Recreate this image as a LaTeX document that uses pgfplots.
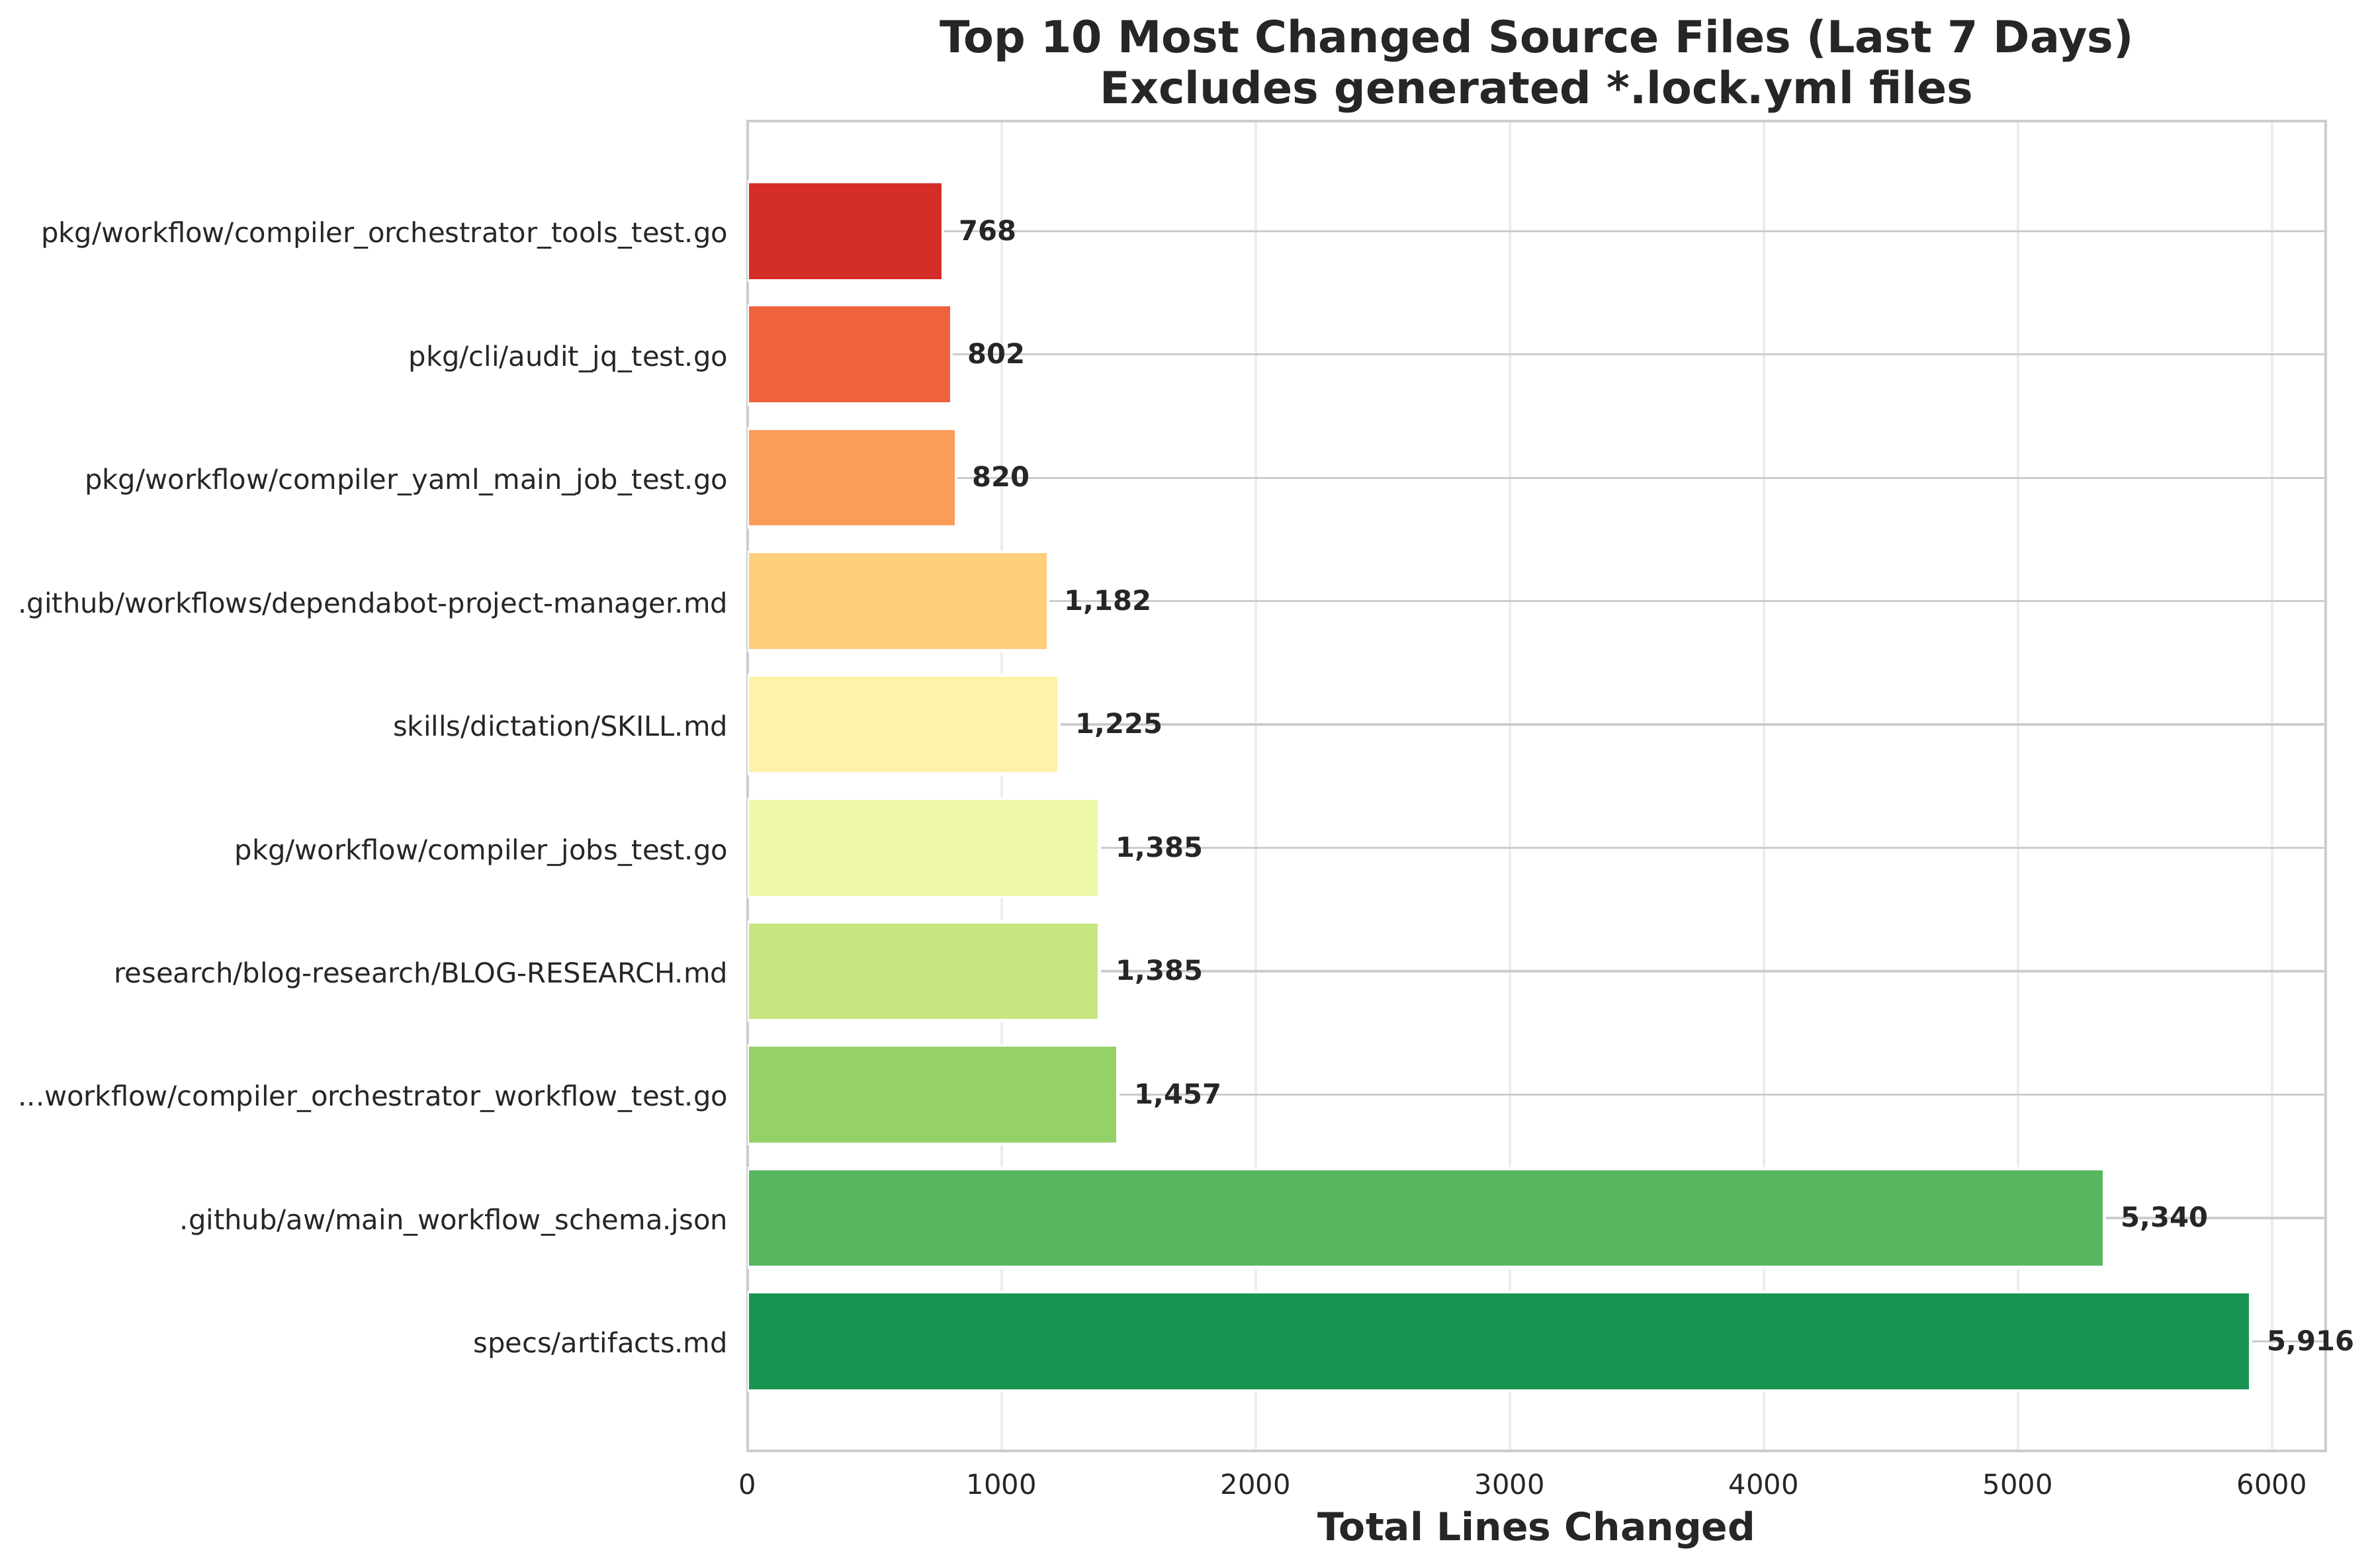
\documentclass[border=0pt]{standalone}
\usepackage{fontspec}
\setmainfont{DejaVu Sans}
\usepackage{pgfplots}
\pgfplotsset{compat=1.18}
\definecolor{txt}{HTML}{262626}
\definecolor{spine}{HTML}{CCCCCC}
\definecolor{gridx}{HTML}{EDEDED}
\definecolor{gridy}{HTML}{CCCCCC}
\definecolor{b0}{HTML}{189450}
\definecolor{b1}{HTML}{58B65F}
\definecolor{b2}{HTML}{94D168}
\definecolor{b3}{HTML}{C6E77F}
\definecolor{b4}{HTML}{EEF8A7}
\definecolor{b5}{HTML}{FFF1A7}
\definecolor{b6}{HTML}{FECE7C}
\definecolor{b7}{HTML}{FB9C59}
\definecolor{b8}{HTML}{EF623E}
\definecolor{b9}{HTML}{D42D27}
\newcommand{\threedots}{.\kern0pt.\kern0pt.}
\begin{document}
\begin{tikzpicture}
\begin{axis}[
  name=ax,
  scale only axis, width=572.4pt, height=482.4pt,
  xbar, bar width=0.8, bar shift=0pt,
  xmin=0, xmax=6211.8, ymin=-0.89, ymax=9.89,
  ytick={0,1,2,3,4,5,6,7,8,9},
  yticklabels={
    {specs/artifacts.md},
    {.github/aw/main\_workflow\_schema.json},
    {\threedots workflow/compiler\_orchestrator\_workflow\_test.go},
    {research/blog-research/BLOG-RESEARCH.md},
    {pkg/workflow/compiler\_jobs\_test.go},
    {skills/dictation/SKILL.md},
    {.github/workflows/dependabot-project-manager.md},
    {pkg/workflow/compiler\_yaml\_main\_job\_test.go},
    {pkg/cli/audit\_jq\_test.go},
    {pkg/workflow/compiler\_orchestrator\_tools\_test.go}},
  xtick={0,1000,2000,3000,4000,5000,6000},
  major tick length=0pt, minor tick num=0,
  axis line style={color=spine, line width=1pt},
  xmajorgrids, ymajorgrids,
  x grid style={color=gridx, line width=1pt},
  y grid style={color=gridy, line width=0.8pt},
  /pgf/number format/assume math mode=true,
  /pgf/number format/1000 sep={},
  tick label style={color=txt, font=\fontsize{10}{12}\selectfont},
  xticklabel style={inner sep=0pt, anchor=north, yshift=-7.9pt},
  yticklabel style={inner sep=0pt, anchor=base east, xshift=-7pt, yshift=-4.2pt},
  point meta=x,
  nodes near coords={\pgfmathprintnumber[fixed,precision=0,1000 sep={,}]{\pgfplotspointmeta}},
  nodes near coords style={font=\bfseries\fontsize{10}{12}\selectfont, color=txt, anchor=base west, inner sep=0pt, xshift=5.45pt, yshift=-3.3pt},
  title={Top 10 Most Changed Source Files (Last 7 Days)\\Excludes generated *.lock.yml files},
  title style={font=\bfseries\fontsize{16}{18.4}\selectfont, color=txt, align=center, at={(axis description cs:0.5,1)}, anchor=south, inner sep=0pt, text depth=0pt, yshift=0.3pt},
  xlabel={Total Lines Changed},
  xlabel style={font=\bfseries\fontsize{14}{16.8}\selectfont, color=txt, at={(axis description cs:0.5,0)}, anchor=base, inner sep=0pt, yshift=-32.4pt},
]
\addplot[fill=b0, draw=white, line width=1.1pt] coordinates {(5916,0)};
\addplot[fill=b1, draw=white, line width=1.1pt] coordinates {(5340,1)};
\addplot[fill=b2, draw=white, line width=1.1pt] coordinates {(1457,2)};
\addplot[fill=b3, draw=white, line width=1.1pt] coordinates {(1385,3)};
\addplot[fill=b4, draw=white, line width=1.1pt] coordinates {(1385,4)};
\addplot[fill=b5, draw=white, line width=1.1pt] coordinates {(1225,5)};
\addplot[fill=b6, draw=white, line width=1.1pt] coordinates {(1182,6)};
\addplot[fill=b7, draw=white, line width=1.1pt] coordinates {(820,7)};
\addplot[fill=b8, draw=white, line width=1.1pt] coordinates {(802,8)};
\addplot[fill=b9, draw=white, line width=1.1pt] coordinates {(768,9)};
\end{axis}
\pgfresetboundingbox
\path (ax.south west) ++(-271.2pt,-42.2pt) rectangle ++(860.4pt,568.6pt);
\end{tikzpicture}
\end{document}
